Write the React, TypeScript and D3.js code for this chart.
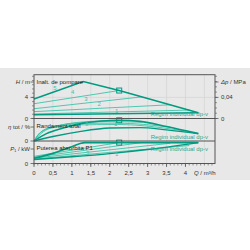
import React from "react";
import * as d3 from "d3";

// ---- data ----
const Q_TICKS = [0, 0.5, 1, 1.5, 2, 2.5, 3, 3.5, 4];
const Q_TICK_LABELS = ["0", "0,5", "1", "1,5", "2", "2,5", "3", "3,5", "4"];
const H_TICKS = [0, 4];
const DP_TICKS = [0, 0.04];
const DP_TICK_LABELS = ["0", "0,04"];

// Head curves (Q in m³/h, H in m)
const H_MAX_Q = [0, 1.3, 2.25, 4.34];
const H_MAX = [3.7, 7.0, 5.3, 1.1];
const H4_Q = [0, 2.25];
const H4 = [2.8, 5.3];
const H3_Q = [0, 2.85];
const H3 = [1.85, 4.1];
const H2_Q = [0, 3.6];
const H2 = [1.3, 2.6];
const H1_Q = [0, 4.1];
const H1 = [0.85, 1.6];
const H_MIN_Q = [0, 4.34];
const H_MIN = [0.72, 1.1];
const H_LABELS = ["5", "4", "3", "2", "1"];
const H_LABEL_Q = [0.55, 1.02, 1.37, 1.72, 2.18];
const H_LABEL_V = [5.8, 4.96, 3.69, 2.69, 1.48];
const DUTY_Q = 2.25;
const DUTY_H = 5.3;

// Efficiency curves (relative)
const E_MAX_Q = [0, 0.33, 0.77, 1.3, 1.8, 2.25, 2.8, 3.5, 4.34];
const E_MAX = [0, 0.33, 0.58, 0.8, 0.9, 0.93, 0.88, 0.65, 0.33];
const E_MIN_Q = [0, 0.5, 1.2, 2, 2.8, 3.5, 4.34];
const E_MIN = [0, 0.2, 0.42, 0.58, 0.6, 0.5, 0.33];
const E4_Q = [0, 0.25, 0.7, 1.4, 2.25];
const E4 = [0, 0.42, 0.7, 0.87, 0.93];
const E3_Q = [0, 0.2, 0.6, 1.3, 2.0, 2.85];
const E3 = [0, 0.42, 0.68, 0.83, 0.87, 0.84];
const E2_Q = [0, 0.18, 0.5, 1.2, 2.2, 3.6];
const E2 = [0, 0.4, 0.63, 0.78, 0.8, 0.62];
const E1_Q = [0, 0.15, 0.45, 1.1, 2.2, 4.1];
const E1 = [0, 0.36, 0.58, 0.72, 0.74, 0.42];
const E_LABELS = ["3", "1"];
const E_LABEL_Q = [1.39, 2.16];
const E_LABEL_V = [0.75, 0.75];
const DUTY_E = 0.93;

// Power curves (relative)
const P_MAX_Q = [0, 0.5, 1.0, 1.2, 1.35, 4.34];
const P_MAX = [0.23, 0.45, 0.75, 0.88, 0.93, 0.93];
const P_MIN_Q = [0, 1, 2, 3, 4.34];
const P_MIN = [0.18, 0.3, 0.44, 0.62, 0.93];
const P4_Q = [0, 2.25];
const P4 = [0.32, 0.93];
const P3_Q = [0, 2.85];
const P3 = [0.28, 0.93];
const P2_Q = [0, 3.6];
const P2 = [0.24, 0.9];
const P1_Q = [0, 4.1];
const P1 = [0.2, 0.8];
const P_LABELS = ["3", "1"];
const P_LABEL_Q = [1.42, 2.18];
const P_LABEL_V = [0.48, 0.44];
const DUTY_P = 0.93;

const MODE_TEXT = "Regim individual dp-v";

// ---- layout ----
const X0 = 34, X1 = 215;
const TOP = 74.7, HB = 118.5, EB = 141, PB = 163.5;
const DARK = "#009a80";
const LIGHT = "#3ec3aa";
const TXT = "#333";
const FONT = "'Liberation Sans', Arial, sans-serif";
const FS = 6;

export default function App() {
  const x = d3.scaleLinear().domain([0, 4.78]).range([X0, X1]);
  const yH = d3.scaleLinear().domain([0, 8.3]).range([HB, TOP]);
  const yDp = d3.scaleLinear().domain([0, 0.083]).range([HB, TOP]);
  const yE = d3.scaleLinear().domain([0, 1]).range([EB, 118.7]);
  const yP = d3.scaleLinear().domain([0, 1]).range([PB, EB]);

  const path = (qs: number[], vs: number[], y: d3.ScaleLinear<number, number>, curve = d3.curveLinear) =>
    d3
      .line<number>()
      .x((_, i) => x(qs[i]))
      .y((v) => y(v))
      .curve(curve)(vs) || "";

  const minorQ = d3.range(0, 4.75, 0.1);
  const minorH = d3.range(0, 8.3, 0.8);
  const minorDp = d3.range(0, 0.083, 0.01);

  const lines = (
    sets: [number[], number[], string, number][],
    y: d3.ScaleLinear<number, number>,
    curve = d3.curveLinear
  ) =>
    sets.map(([q, v, c, w], i) => (
      <path key={i} d={path(q, v, y, curve)} fill="none" stroke={c} strokeWidth={w} />
    ));

  const sq = (cx: number, cy: number) => (
    <rect x={cx - 2.5} y={cy - 2.5} width={5} height={5} fill="none" stroke={DARK} strokeWidth={1} />
  );

  return (
    <svg
      width={250}
      height={250}
      style={{ position: "absolute", left: 0, top: 0, background: "#fff" }}
      fontFamily={FONT}
    >
      <rect x={0} y={68} width={250} height={112} fill="#e8e8e8" />
      {/* grid */}
      {Q_TICKS.slice(1).concat([4.5]).map((q, i) => (
        <line key={"g" + i} x1={x(q)} x2={x(q)} y1={TOP} y2={PB} stroke="#d6d6d6" strokeWidth={0.8} />
      ))}
      <line x1={X0} x2={X1} y1={yH(4)} y2={yH(4)} stroke="#d6d6d6" strokeWidth={0.8} />

      {/* head curves */}
      {lines(
        [
          [H4_Q, H4, LIGHT, 0.9],
          [H3_Q, H3, LIGHT, 0.9],
          [H2_Q, H2, LIGHT, 0.9],
          [H1_Q, H1, LIGHT, 0.9],
          [H_MIN_Q, H_MIN, DARK, 1.4],
          [H_MAX_Q, H_MAX, DARK, 1.6],
        ],
        yH
      )}
      {sq(x(DUTY_Q), yH(DUTY_H))}
      {H_LABELS.map((t, i) => (
        <text key={"hl" + i} x={x(H_LABEL_Q[i])} y={yH(H_LABEL_V[i])} dy="0.35em" textAnchor="middle" fontSize={FS} fill={LIGHT}>
          {t}
        </text>
      ))}

      {/* efficiency */}
      {lines(
        [
          [E4_Q, E4, LIGHT, 0.9],
          [E3_Q, E3, LIGHT, 0.9],
          [E2_Q, E2, LIGHT, 0.9],
          [E1_Q, E1, LIGHT, 0.9],
          [E_MIN_Q, E_MIN, DARK, 1.4],
          [E_MAX_Q, E_MAX, DARK, 1.6],
        ],
        yE,
        d3.curveMonotoneX
      )}
      {sq(x(DUTY_Q), yE(DUTY_E))}
      {E_LABELS.map((t, i) => (
        <text key={"el" + i} x={x(E_LABEL_Q[i])} y={yE(E_LABEL_V[i])} dy="0.35em" textAnchor="middle" fontSize={FS} fill={LIGHT}>
          {t}
        </text>
      ))}

      {/* power */}
      {lines(
        [
          [P4_Q, P4, LIGHT, 0.9],
          [P3_Q, P3, LIGHT, 0.9],
          [P2_Q, P2, LIGHT, 0.9],
          [P1_Q, P1, LIGHT, 0.9],
          [P_MIN_Q, P_MIN, DARK, 1.4],
          [P_MAX_Q, P_MAX, DARK, 1.6],
        ],
        yP,
        d3.curveMonotoneX
      )}
      {sq(x(DUTY_Q), yP(DUTY_P))}
      {P_LABELS.map((t, i) => (
        <text key={"pl" + i} x={x(P_LABEL_Q[i])} y={yP(P_LABEL_V[i])} dy="0.35em" textAnchor="middle" fontSize={FS} fill={LIGHT}>
          {t}
        </text>
      ))}

      {/* mode texts */}
      {[yH(0.8), yE(0.2), yP(0.65)].map((yy, i) => (
        <text key={"m" + i} x={208} y={yy} dy="0.35em" textAnchor="end" fontSize={FS} fill="#2aa890">
          {MODE_TEXT}
        </text>
      ))}

      {/* panel titles */}
      <text x={36.5} y={81.5} dy="0.35em" fontSize={FS} fill="#222">Inalt. de pompare</text>
      <text x={36.5} y={126} dy="0.35em" fontSize={FS} fill="#222">Randament total</text>
      <text x={36.5} y={147.5} dy="0.35em" fontSize={FS} fill="#222">Puterea absorbita P1</text>

      {/* frame */}
      <rect x={X0} y={TOP} width={X1 - X0} height={PB - TOP} fill="none" stroke="#555" strokeWidth={1} />
      <line x1={X0} x2={X1} y1={HB} y2={HB} stroke="#555" strokeWidth={1} />
      <line x1={X0} x2={X1} y1={EB} y2={EB} stroke="#555" strokeWidth={1} />

      {/* bottom axis */}
      {minorQ.map((q, i) => (
        <line key={"mq" + i} x1={x(q)} x2={x(q)} y1={PB} y2={PB + 2} stroke="#555" strokeWidth={0.6} />
      ))}
      {Q_TICKS.map((q, i) => (
        <g key={"q" + i}>
          <line x1={x(q)} x2={x(q)} y1={PB} y2={PB + 3.5} stroke="#555" strokeWidth={0.8} />
          <text x={x(q)} y={173} dy="0.35em" textAnchor="middle" fontSize={FS} fill={TXT}>
            {Q_TICK_LABELS[i]}
          </text>
        </g>
      ))}
      <text x={194} y={173} dy="0.35em" fontSize={FS} fill={TXT}>
        <tspan fontStyle="italic">Q</tspan> / m³/h
      </text>

      {/* left axis */}
      {minorH.map((h, i) => (
        <line key={"mh" + i} x1={X0 - 2} x2={X0} y1={yH(h)} y2={yH(h)} stroke="#555" strokeWidth={0.6} />
      ))}
      {H_TICKS.map((h, i) => (
        <g key={"h" + i}>
          <line x1={X0 - 3.5} x2={X0} y1={yH(h)} y2={yH(h)} stroke="#555" strokeWidth={0.8} />
          <text x={28} y={yH(h)} dy="0.35em" textAnchor="end" fontSize={FS} fill={TXT}>
            {h}
          </text>
        </g>
      ))}
      <line x1={X0 - 3.5} x2={X0} y1={82} y2={82} stroke="#555" strokeWidth={0.8} />
      <text x={30} y={82} dy="0.35em" textAnchor="end" fontSize={FS} fill={TXT}>
        <tspan fontStyle="italic">H</tspan> / m
      </text>
      <line x1={X0 - 3.5} x2={X0} y1={yE(0)} y2={yE(0)} stroke="#555" strokeWidth={0.8} />
      <text x={28} y={yE(0)} dy="0.35em" textAnchor="end" fontSize={FS} fill={TXT}>0</text>
      <line x1={X0 - 3.5} x2={X0} y1={127} y2={127} stroke="#555" strokeWidth={0.8} />
      <text x={30} y={127} dy="0.35em" textAnchor="end" fontSize={FS} fill={TXT}>
        <tspan fontStyle="italic">η</tspan> tot / %
      </text>
      <line x1={X0 - 3.5} x2={X0} y1={yP(0)} y2={yP(0)} stroke="#555" strokeWidth={0.8} />
      <text x={28} y={yP(0)} dy="0.35em" textAnchor="end" fontSize={FS} fill={TXT}>0</text>
      <line x1={X0 - 3.5} x2={X0} y1={149} y2={149} stroke="#555" strokeWidth={0.8} />
      <text x={30} y={149} dy="0.35em" textAnchor="end" fontSize={FS} fill={TXT}>
        <tspan fontStyle="italic">P</tspan>₁ / kW
      </text>

      {/* right axis */}
      {minorDp.map((p, i) => (
        <line key={"md" + i} x1={X1} x2={X1 + 2} y1={yDp(p)} y2={yDp(p)} stroke="#555" strokeWidth={0.6} />
      ))}
      {DP_TICKS.map((p, i) => (
        <g key={"d" + i}>
          <line x1={X1} x2={X1 + 3.5} y1={yDp(p)} y2={yDp(p)} stroke="#555" strokeWidth={0.8} />
          <text x={221} y={yDp(p)} dy="0.35em" fontSize={FS} fill={TXT}>
            {DP_TICK_LABELS[i]}
          </text>
        </g>
      ))}
      <line x1={X1} x2={X1 + 3.5} y1={82} y2={82} stroke="#555" strokeWidth={0.8} />
      <text x={221} y={82} dy="0.35em" fontSize={FS} fill={TXT}>
        <tspan fontStyle="italic">Δp</tspan> / MPa
      </text>
    </svg>
  );
}
